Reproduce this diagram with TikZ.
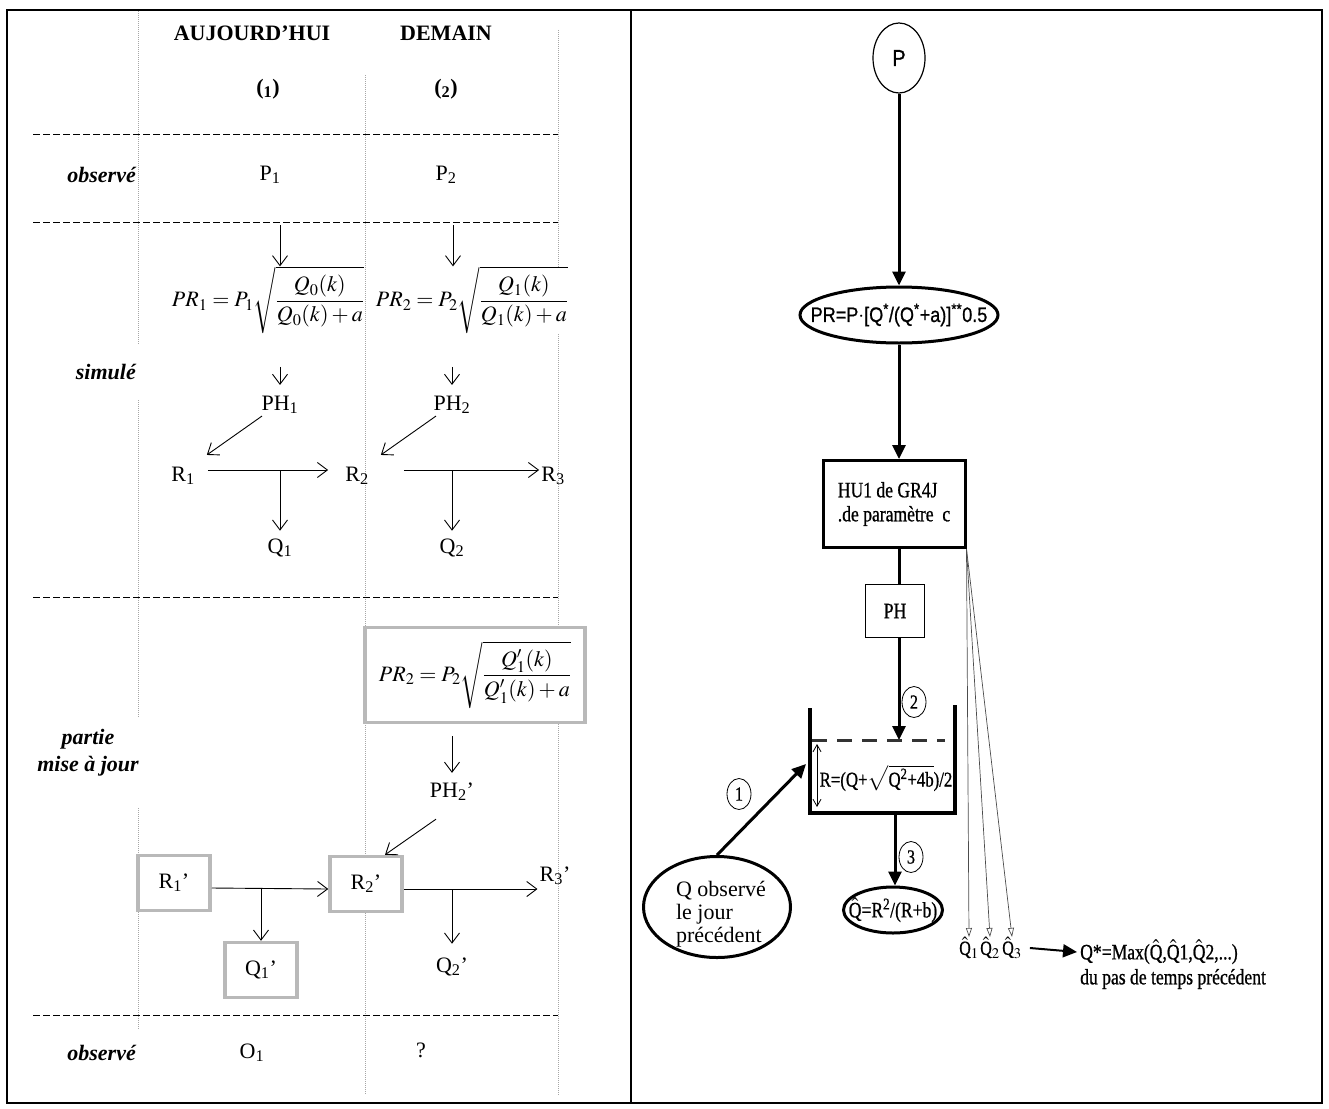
\documentclass[tikz,border=0pt]{standalone}
\usepackage{mathptmx}
\usepackage[no-math]{fontspec}
\setmainfont{Liberation Serif}
\newfontfamily\narrowsans[FakeStretch=0.86, FakeBold=0.8]{Liberation Sans}
\newfontfamily\narrowserif[FakeStretch=0.8, FakeBold=0.8]{Liberation Serif}
\usetikzlibrary{positioning, arrows.meta, shapes.geometric}

\tikzset{
  txt/.style={font=\fontsize{22}{26}\selectfont, inner sep=2pt},
  hdr/.style={font=\fontsize{22}{26}\selectfont\bfseries, inner sep=2pt},
  rowlbl/.style={font=\fontsize{22}{27}\selectfont\bfseries\itshape, inner sep=1pt},
  grid/.style={gray!70, line width=0.8pt, dash pattern=on 1pt off 1pt},
  sep/.style={line width=1pt, dash pattern=on 7pt off 3pt},
  larr/.style={-{Straight Barb[length=10pt,width=15pt]}, line width=0.9pt},
  upd/.style={draw=gray!55, fill=white, line width=3.5pt, minimum width=72pt, minimum height=55pt, font=\fontsize{22}{26}\selectfont},
  rtxt/.style={font=\fontsize{22}{24}\narrowserif, inner sep=2pt},
  rarr/.style={-{Triangle[length=14pt,width=13pt]}, line width=3pt},
  fan/.style={-{Triangle[open,length=9pt,width=6pt]}, gray!60!black, line width=0.7pt},
  oval/.style={ellipse, draw, inner sep=0pt},
  num/.style={ellipse, draw, line width=0.8pt, minimum width=24pt, minimum height=31pt, inner sep=0pt, font=\fontsize{20}{22}\narrowserif},
}

\begin{document}
\begin{tikzpicture}[x=1pt, y=-1pt]
\useasboundingbox (0,0) rectangle (1329,1108);
% frame of the two cells
\draw[line width=1.6pt] (7,10) rectangle (1322,1103) (631,10) -- (631,1103);

% left cell: columns and rows
\draw[grid] (138,11) -- (138,345) (138,400) -- (138,717) (138,808) -- (138,1030);
\draw[grid] (365,75) -- (365,1095) (558,30) -- (558,1095);
\foreach \y in {134,222,597,1015}
  \draw[sep] (33,\y) -- (558,\y);

\node[hdr] (today) at (252,33) {AUJOURD’HUI};
\node[hdr] (tomorrow) at (446,33) {DEMAIN};
\node[hdr] (day1) at (268,89) {(\textsubscript{1})};
\node[hdr] (day2) at (446,89) {(\textsubscript{2})};

\node[rowlbl, anchor=east] (obs) at (137,175) {observé};
\node[txt] (P1) at (270,175) {P\textsubscript{1}};
\node[txt] (P2) at (446,175) {P\textsubscript{2}};

% simulated part
\node[txt, fill=white, inner sep=0pt] (PR1) at (268,300) {$PR_1 = P_1\sqrt{\displaystyle\frac{Q_0(k)}{Q_0(k)+a}}$};
\node[txt, fill=white, inner sep=0pt] (PR2) at (472,300) {$PR_2 = P_2\sqrt{\displaystyle\frac{Q_1(k)}{Q_1(k)+a}}$};
\coordinate (in1) at (280,225);
\coordinate (in2) at (453,225);
\draw[larr] (in1) -- (in1 |- PR1.north);
\draw[larr] (in2) -- (in2 |- PR2.north);

\node[rowlbl, anchor=east] (sim) at (137,372) {simulé};
\node[txt] (PH1) at (280,405) {PH\textsubscript{1}};
\node[txt] (PH2) at (452,405) {PH\textsubscript{2}};
\draw[larr] ([yshift=27pt]PH1.north) -- ([yshift=9pt]PH1.north);
\draw[larr] ([yshift=27pt]PH2.north) -- ([yshift=9pt]PH2.north);

\node[txt] (R1) at (183,476) {R\textsubscript{1}};
\node[txt] (R2) at (357,476) {R\textsubscript{2}};
\node[txt] (R3) at (553,476) {R\textsubscript{3}};
\node[txt] (Q1) at (280,548) {Q\textsubscript{1}};
\node[txt] (Q2) at (452,548) {Q\textsubscript{2}};
\path ([yshift=6pt]R1.east) coordinate (r1o) ([yshift=6pt]R2.west) coordinate (r2i)
      ([yshift=6pt]R2.east) coordinate (r2o) ([yshift=6pt]R3.west) coordinate (r3i);
\draw[larr] ([xshift=-18pt]PH1.south) -- ([shift={(10pt,10pt)}]R1.north east);
\draw[larr] ([xshift=-16pt]PH2.south) -- ([shift={(10pt,10pt)}]R2.north east);
\draw[larr, shorten <=11pt, shorten >=15pt] (r1o) -- (r2i);
\draw[larr, shorten <=33pt] (r2o) -- (r3i);
\draw[larr, shorten >=6pt] (r1o -| Q1) -- (Q1.north);
\draw[larr, shorten >=6pt] (r2o -| Q2) -- (Q2.north);

% updated part
\node[upd, minimum width=220pt, minimum height=95pt] (PR2u) at (475,675) {$PR_2 = P_2\sqrt{\displaystyle\frac{Q_1^{\prime}(k)}{Q_1^{\prime}(k)+a}}$};
\node[rowlbl, align=center] (upd) at (88,753) {partie\\mise à jour};
\node[txt] (PH2p) at (452,792) {PH\textsubscript{2}’};
\path ([yshift=-12pt]PR2u.south) coordinate (b2);
\draw[larr, shorten >=8pt] (b2 -| PH2p) -- (PH2p.north);

\node[upd] (R1p) at (174,883) {R\textsubscript{1}’};
\node[upd] (R2p) at (366,884) {R\textsubscript{2}’};
\node[upd] (Q1p) at (261,970) {Q\textsubscript{1}’};
\node[txt] (R3p) at (555,876) {R\textsubscript{3}’};
\node[txt] (Q2p) at (452,967) {Q\textsubscript{2}’};
\path ([yshift=-5pt]R1p.east) coordinate (r1po) ([yshift=-5pt]R2p.west) coordinate (r2pi)
      ([yshift=-5pt]R2p.east) coordinate (r2po);
\draw[larr] ([shift={(-16pt,-16pt)}]PH2p.south) -- ([xshift=19pt]R2p.north);
\draw[larr] (r1po) -- (r2pi);
\draw[larr] (r1po -| Q1p) -- (Q1p.north);
\draw[larr] (r2po) -- (r2po -| R3p.west);
\draw[larr, shorten >=12pt] (r2po -| Q2p) -- (Q2p.north);

\node[rowlbl, anchor=east] (obs2) at (137,1053) {observé};
\node[txt] (O1) at (252,1053) {O\textsubscript{1}};
\node[txt] (unknown) at (421,1050) {?};

% right cell: flow chart of the update
\node[oval, line width=1.2pt, minimum width=52pt, minimum height=70pt, font=\fontsize{23}{26}\narrowsans] (P) at (899,58) {P};
\node[oval, line width=3pt, minimum width=198pt, minimum height=56pt] (PRe) at (899,315) {};
\node[font=\fontsize{21}{25}\narrowsans] (PR) at (PRe) {PR=P$\cdot$[Q\textsuperscript{*}/(Q\textsuperscript{*}+a)]\textsuperscript{**}0.5};
\node[draw, line width=3pt, minimum width=142pt, minimum height=87pt, align=left, rtxt] (HU) at (894,504) {HU1 de GR4J\\.de paramètre~~c};
\node[draw, line width=0.8pt, minimum width=59pt, minimum height=53pt, rtxt] (PH) at (895,611) {PH};

\draw[rarr] (P) -- (PRe);
\draw[rarr] (PRe.south) -- (PRe.south |- HU.north);
\draw[line width=3pt] (HU.south -| PRe) -- (PH.north -| PRe);
\coordinate (lvl) at (899,740);
\draw[rarr] (PH.south -| PRe) -- (lvl);
\node[num] (c2) at (914,702) {2};

% reservoir
\coordinate (tankTL) at (810,708);
\coordinate (tankBL) at (810,813);
\coordinate (tankBR) at (955,813);
\coordinate (tankTR) at (955,705);
\draw[line width=4pt] (tankTL) -- (tankBL) -- (tankBR) -- (tankTR);
\draw[line width=3pt, black!80, dash pattern=on 15pt off 10pt] (812,740) -- (945,740);
\draw[{Straight Barb[length=7pt,width=8pt]}-{Straight Barb[length=7pt,width=8pt]}, line width=0.8pt] (817,744) -- (817,807);
\node[rtxt, font=\fontsize{21}{22}\narrowserif] (Rf) at (886,778) {R=(Q+$\sqrt{\mbox{Q\textsuperscript{2}+4b}}$)/2};

\node[oval, line width=3pt, minimum width=147pt, minimum height=101pt] (Qobse) at (717,907) {};
\node[align=left, font=\fontsize{22}{23}\selectfont] (Qobs) at (721,914) {Q observé\\le jour\\précédent};
\coordinate (wallin) at (806,764);
\draw[rarr] (Qobse.north) -- (wallin);
\node[num] (c1) at (739,794) {1};

\coordinate (outlet) at (895,813);
\node[oval, line width=3pt, minimum width=99pt, minimum height=46pt] (Qhe) at (893,910) {};
\node[rtxt] (Qh) at (Qhe) {$\hat{\mbox{Q}}$=R\textsuperscript{2}/(R+b)};
\draw[rarr] (outlet) -- (outlet |- Qhe.north);
\node[num] (c3) at (911,857) {3};

% simulated outflows of the unit hydrograph
\foreach \k/\x in {1/969,2/990,3/1012}
  \node[rtxt, inner sep=0pt, font=\fontsize{20}{22}\narrowserif] (Qh\k) at (\x,948) {$\hat{\mbox{Q}}_{\k}$};
\foreach \k in {1,2,3}
  \draw[fan] (HU.south east) -- (Qh\k.north);
\node[rtxt, inner sep=0pt, anchor=west] (Qstar) at (1080,952) {Q*=Max($\hat{\mbox{Q}}$,$\hat{\mbox{Q}}$1,$\hat{\mbox{Q}}$2,...)};
\node[rtxt, inner sep=0pt, anchor=west] (Qstep) at (1080,979) {du pas de temps précédent};
\draw[rarr, line width=2pt] ([xshift=8pt]Qh3.east) -- ([xshift=-3pt]Qstar.west);
\end{tikzpicture}
\end{document}
